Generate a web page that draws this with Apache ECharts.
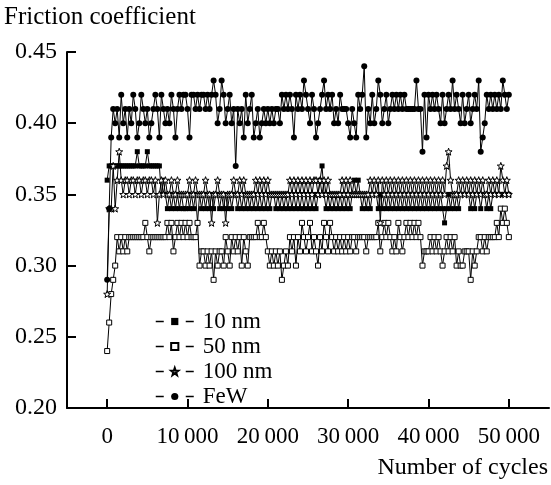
<!DOCTYPE html>
<html>
<head>
<meta charset="utf-8">
<script src="https://cdn.jsdelivr.net/npm/echarts@6/dist/echarts.min.js"></script>
<style>
  html, body { margin: 0; padding: 0; background: #fff; }
  #chart { width: 551px; height: 485px; }
</style>
</head>
<body>
<div id="chart"></div>
<script>
// samples are taken every 250 cycles, starting at 0
const cycleStep = 250;

const seriesNames = ['10 nm', '50 nm', '100 nm', 'FeW'];

const nm10 = [
  0.36, 0.37, 0.37, 0.37, 0.37, 0.37, 0.37, 0.37, 0.37, 0.37,
  0.37, 0.37, 0.37, 0.37, 0.37, 0.38, 0.37, 0.37, 0.37, 0.37,
  0.38, 0.37, 0.37, 0.37, 0.37, 0.37, 0.37, 0.35, 0.36, 0.35,
  0.34, 0.35, 0.34, 0.35, 0.34, 0.35, 0.34, 0.35, 0.34, 0.34,
  0.35, 0.34, 0.35, 0.34, 0.35, 0.33, 0.35, 0.34, 0.35, 0.34,
  0.35, 0.34, 0.35, 0.34, 0.35, 0.35, 0.34, 0.35, 0.34, 0.35,
  0.34, 0.35, 0.34, 0.35, 0.35, 0.34, 0.35, 0.34, 0.35, 0.34,
  0.35, 0.34, 0.35, 0.34, 0.35, 0.34, 0.35, 0.34, 0.35, 0.34,
  0.35, 0.34, 0.35, 0.35, 0.34, 0.35, 0.34, 0.35, 0.34, 0.35,
  0.34, 0.35, 0.34, 0.35, 0.34, 0.35, 0.34, 0.35, 0.34, 0.35,
  0.34, 0.35, 0.34, 0.35, 0.34, 0.35, 0.36, 0.37, 0.35, 0.34,
  0.35, 0.34, 0.35, 0.34, 0.35, 0.34, 0.35, 0.34, 0.35, 0.34,
  0.35, 0.34, 0.35, 0.36, 0.35, 0.36, 0.35, 0.34, 0.35, 0.34,
  0.35, 0.34, 0.35, 0.35, 0.35, 0.34, 0.35, 0.34, 0.35, 0.34,
  0.35, 0.34, 0.35, 0.34, 0.35, 0.34, 0.35, 0.34, 0.35, 0.34,
  0.35, 0.34, 0.35, 0.34, 0.35, 0.34, 0.35, 0.34, 0.35, 0.34,
  0.35, 0.34, 0.35, 0.34, 0.35, 0.34, 0.35, 0.34, 0.33, 0.34,
  0.35, 0.34, 0.35, 0.34, 0.35, 0.34, 0.35, 0.35, 0.35, 0.35,
  0.35, 0.34, 0.35, 0.34, 0.35, 0.35, 0.34, 0.35, 0.35, 0.34,
  0.35, 0.34, 0.35, 0.35, 0.35, 0.35, 0.35, 0.35, 0.35, 0.35,
  0.35
];

const nm50 = [
  0.24, 0.26, 0.28, 0.29, 0.30, 0.32, 0.31, 0.32, 0.31, 0.32,
  0.31, 0.32, 0.32, 0.32, 0.32, 0.32, 0.32, 0.32, 0.32, 0.33,
  0.32, 0.31, 0.32, 0.32, 0.32, 0.32, 0.32, 0.32, 0.32, 0.32,
  0.33, 0.32, 0.33, 0.31, 0.32, 0.33, 0.32, 0.33, 0.32, 0.33,
  0.32, 0.33, 0.32, 0.32, 0.32, 0.33, 0.30, 0.31, 0.31, 0.30,
  0.31, 0.30, 0.31, 0.29, 0.31, 0.30, 0.31, 0.31, 0.30, 0.32,
  0.31, 0.30, 0.32, 0.31, 0.32, 0.31, 0.32, 0.30, 0.32, 0.31,
  0.30, 0.32, 0.32, 0.32, 0.32, 0.33, 0.32, 0.32, 0.33, 0.32,
  0.31, 0.30, 0.31, 0.30, 0.31, 0.30, 0.31, 0.29, 0.30, 0.31,
  0.30, 0.32, 0.31, 0.32, 0.30, 0.32, 0.31, 0.33, 0.32, 0.31,
  0.32, 0.33, 0.31, 0.32, 0.31, 0.30, 0.32, 0.31, 0.33, 0.32,
  0.31, 0.33, 0.32, 0.31, 0.32, 0.31, 0.32, 0.31, 0.32, 0.31,
  0.32, 0.31, 0.32, 0.32, 0.31, 0.32, 0.32, 0.32, 0.32, 0.31,
  0.32, 0.32, 0.32, 0.32, 0.32, 0.33, 0.31, 0.32, 0.33, 0.32,
  0.33, 0.32, 0.31, 0.32, 0.31, 0.33, 0.32, 0.31, 0.32, 0.33,
  0.32, 0.33, 0.32, 0.33, 0.32, 0.33, 0.32, 0.30, 0.31, 0.31,
  0.31, 0.32, 0.31, 0.32, 0.31, 0.32, 0.31, 0.30, 0.31, 0.32,
  0.31, 0.32, 0.31, 0.32, 0.30, 0.31, 0.30, 0.30, 0.31, 0.31,
  0.31, 0.29, 0.31, 0.30, 0.31, 0.32, 0.32, 0.31, 0.32, 0.31,
  0.32, 0.32, 0.32, 0.32, 0.33, 0.32, 0.34, 0.33, 0.34, 0.33,
  0.32
];

const nm100 = [
  0.28, 0.34, 0.34, 0.37, 0.34, 0.36, 0.38, 0.36, 0.35, 0.36,
  0.36, 0.35, 0.36, 0.36, 0.35, 0.36, 0.36, 0.35, 0.36, 0.36,
  0.35, 0.36, 0.36, 0.35, 0.36, 0.33, 0.35, 0.36, 0.35, 0.36,
  0.35, 0.35, 0.36, 0.35, 0.35, 0.36, 0.35, 0.35, 0.35, 0.35,
  0.35, 0.36, 0.35, 0.35, 0.36, 0.35, 0.35, 0.35, 0.35, 0.36,
  0.35, 0.35, 0.33, 0.35, 0.35, 0.36, 0.35, 0.35, 0.35, 0.33,
  0.35, 0.35, 0.35, 0.36, 0.35, 0.35, 0.36, 0.35, 0.36, 0.35,
  0.35, 0.35, 0.35, 0.35, 0.36, 0.35, 0.36, 0.35, 0.36, 0.35,
  0.36, 0.35, 0.35, 0.35, 0.35, 0.35, 0.35, 0.35, 0.35, 0.35,
  0.35, 0.36, 0.35, 0.36, 0.35, 0.36, 0.35, 0.36, 0.35, 0.36,
  0.35, 0.36, 0.35, 0.36, 0.36, 0.35, 0.36, 0.35, 0.36, 0.35,
  0.36, 0.35, 0.35, 0.35, 0.35, 0.35, 0.35, 0.36, 0.35, 0.36,
  0.35, 0.36, 0.35, 0.35, 0.35, 0.35, 0.35, 0.35, 0.35, 0.35,
  0.35, 0.36, 0.35, 0.36, 0.35, 0.36, 0.33, 0.36, 0.35, 0.36,
  0.35, 0.36, 0.35, 0.36, 0.35, 0.36, 0.35, 0.36, 0.35, 0.36,
  0.35, 0.36, 0.35, 0.36, 0.35, 0.36, 0.35, 0.36, 0.35, 0.36,
  0.35, 0.36, 0.35, 0.36, 0.35, 0.36, 0.35, 0.36, 0.35, 0.37,
  0.38, 0.36, 0.35, 0.35, 0.35, 0.36, 0.35, 0.36, 0.35, 0.36,
  0.35, 0.36, 0.35, 0.36, 0.35, 0.36, 0.35, 0.36, 0.35, 0.35,
  0.36, 0.35, 0.36, 0.35, 0.36, 0.35, 0.37, 0.36, 0.35, 0.36,
  0.35
];

const few = [
  0.29, 0.34, 0.39, 0.41, 0.40, 0.41, 0.39, 0.42, 0.40, 0.41,
  0.39, 0.41, 0.40, 0.42, 0.41, 0.39, 0.40, 0.42, 0.41, 0.40,
  0.41, 0.39, 0.40, 0.41, 0.42, 0.41, 0.39, 0.42, 0.41, 0.40,
  0.41, 0.40, 0.42, 0.41, 0.39, 0.41, 0.42, 0.41, 0.42, 0.42,
  0.41, 0.39, 0.42, 0.42, 0.41, 0.42, 0.41, 0.42, 0.42, 0.41,
  0.42, 0.41, 0.42, 0.43, 0.42, 0.40, 0.41, 0.43, 0.42, 0.40,
  0.41, 0.42, 0.40, 0.41, 0.37, 0.41, 0.40, 0.41, 0.39, 0.42,
  0.40, 0.41, 0.42, 0.39, 0.40, 0.41, 0.39, 0.40, 0.41, 0.40,
  0.41, 0.40, 0.41, 0.40, 0.41, 0.41, 0.40, 0.42, 0.41, 0.42,
  0.41, 0.42, 0.41, 0.39, 0.42, 0.41, 0.42, 0.41, 0.43, 0.42,
  0.41, 0.40, 0.42, 0.41, 0.39, 0.40, 0.41, 0.42, 0.43, 0.41,
  0.42, 0.41, 0.42, 0.40, 0.41, 0.40, 0.42, 0.41, 0.41, 0.41,
  0.40, 0.39, 0.41, 0.40, 0.39, 0.42, 0.41, 0.42, 0.44, 0.39,
  0.41, 0.40, 0.42, 0.40, 0.41, 0.43, 0.42, 0.40, 0.41, 0.42,
  0.40, 0.41, 0.42, 0.41, 0.42, 0.41, 0.42, 0.41, 0.42, 0.41,
  0.41, 0.41, 0.41, 0.41, 0.43, 0.41, 0.41, 0.38, 0.42, 0.39,
  0.42, 0.41, 0.42, 0.41, 0.42, 0.41, 0.40, 0.42, 0.40, 0.41,
  0.42, 0.41, 0.43, 0.41, 0.42, 0.41, 0.40, 0.42, 0.40, 0.41,
  0.42, 0.40, 0.41, 0.42, 0.41, 0.43, 0.38, 0.39, 0.40, 0.42,
  0.41, 0.42, 0.41, 0.42, 0.41, 0.42, 0.41, 0.43, 0.42, 0.41,
  0.42
];

const xTicks = [0, 10000, 20000, 30000, 40000, 50000];

const serif = 'Liberation Serif';
const starPath = 'path://M0,-10L2.35,-3.24L9.51,-3.09L3.8,1.24L5.88,8.09L0,4L-5.88,8.09L-3.8,1.24L-9.51,-3.09L-2.35,-3.24Z';

const toPoints = (vals) => vals.map((v, i) => [i * cycleStep, v]);

const markerStyles = [
  { symbol: 'rect', size: 5, fill: '#000' },
  { symbol: 'rect', size: 5, fill: '#fff' },
  { symbol: starPath, size: 7, fill: '#fff' },
  { symbol: 'circle', size: 6, fill: '#000' }
];

const seriesData = [nm10, nm50, nm100, few];

const chart = echarts.init(document.getElementById('chart'), null, { renderer: 'canvas' });

const option = {
  animation: false,
  backgroundColor: '#fff',
  textStyle: { fontFamily: serif, color: '#000' },
  grid: { left: 67, right: 2, top: 52, bottom: 77 },
  title: [
    {
      text: 'Friction coefficient',
      left: 4, top: 5, padding: 0,
      textStyle: { fontFamily: serif, fontSize: 25, fontWeight: 'normal', color: '#000' }
    },
    {
      text: 'Number of cycles',
      right: 3, top: 456, padding: 0,
      textStyle: { fontFamily: serif, fontSize: 24, fontWeight: 'normal', color: '#000' }
    }
  ],
  legend: {
    orient: 'vertical',
    left: 155, top: 310,
    padding: 0,
    itemWidth: 38, itemHeight: 9,
    itemGap: 2,
    data: seriesNames,
    lineStyle: { type: [8, 22], width: 1.5, color: '#000' },
    textStyle: { fontFamily: serif, fontSize: 23, color: '#000', lineHeight: 22, padding: [0, 0, 0, 4] }
  },
  xAxis: {
    type: 'value',
    min: -5000, max: 55000,
    splitLine: { show: false },
    axisLine: { onZero: false, lineStyle: { color: '#000', width: 2 } },
    axisTick: { inside: true, length: 9, customValues: xTicks, lineStyle: { color: '#000', width: 2 } },
    axisLabel: {
      customValues: xTicks,
      margin: 17,
      fontFamily: serif, fontSize: 23, color: '#000',
      formatter: (v) => v === 0 ? '0' : String(v / 1000) + '\u2009000'
    }
  },
  yAxis: {
    type: 'value',
    min: 0.2, max: 0.45, interval: 0.05,
    splitLine: { show: false },
    axisLine: { show: true, onZero: false, lineStyle: { color: '#000', width: 2 } },
    axisTick: { show: true, inside: true, length: 9, lineStyle: { color: '#000', width: 2 } },
    axisLabel: {
      margin: 10,
      fontFamily: serif, fontSize: 24, color: '#000',
      formatter: (v) => v.toFixed(2)
    }
  },
  series: seriesNames.map((name, k) => ({
    name,
    type: 'line',
    data: toPoints(seriesData[k]),
    symbol: markerStyles[k].symbol,
    symbolSize: markerStyles[k].size,
    showAllSymbol: true,
    lineStyle: { color: '#000', width: 1 },
    itemStyle: {
      color: markerStyles[k].fill,
      borderColor: '#000',
      borderWidth: markerStyles[k].fill === '#fff' ? 1 : 0
    },
    emphasis: { disabled: true }
  }))
};

chart.setOption(option);
</script>
</body>
</html>
